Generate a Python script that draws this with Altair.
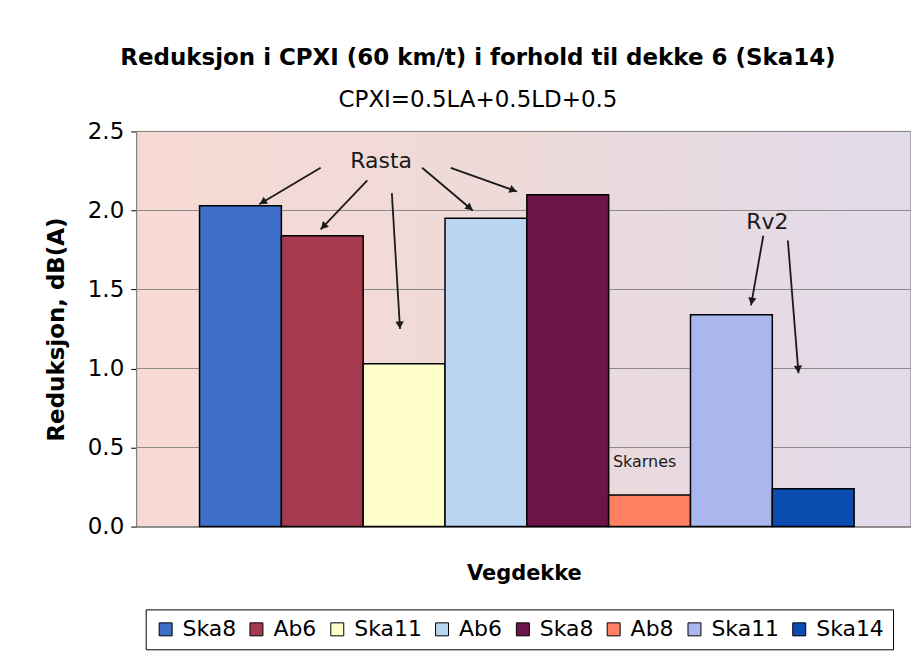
import math
import altair as alt
import pandas as pd

# ---- data ----
series_names = ["Ska8", "Ab6", "Ska11", "Ab6", "Ska8", "Ab8", "Ska11", "Ska14"]
series_values = [2.03, 1.84, 1.03, 1.95, 2.10, 0.20, 1.34, 0.24]
series_colors = ["#3d6fc8", "#a5394e", "#ffffcc", "#b9d5f2", "#6b1548",
                 "#ff8163", "#aab6ee", "#0a4cb0"]
y_ticks = [0.0, 0.5, 1.0, 1.5, 2.0, 2.5]

# annotation labels (data coords: x in bar units, y in dB(A))
label_text = ["Rasta", "Rv2", "Skarnes"]
label_x = [2.22, 6.94, 5.44]
label_y = [2.31, 1.93, 0.41]
label_size = [22, 22, 16]

# arrows (start -> end) in data coords
arrow_x1 = [1.48, 2.05, 2.35, 2.72, 3.07, 6.89, 7.19]
arrow_y1 = [2.27, 2.19, 2.11, 2.27, 2.27, 1.84, 1.81]
arrow_x2 = [0.73, 1.48, 2.45, 3.34, 3.88, 6.74, 7.32]
arrow_y2 = [2.04, 1.88, 1.25, 2.00, 2.12, 1.40, 0.97]

X_MIN, X_MAX = -0.768, 8.695
Y_MIN, Y_MAX = 0.0, 2.5
W, H = 776, 396
FONT = "DejaVu Sans"

ids = [str(i) for i in range(len(series_names))]
bars = pd.DataFrame({
    "id": ids,
    "name": series_names,
    "value": series_values,
    "x0": list(range(len(series_names))),
})
bars["x1"] = bars["x0"] + 1
bars["base"] = 0.0

sx = W / (X_MAX - X_MIN)
sy = H / (Y_MAX - Y_MIN)
rows = []
for a, b, c, d in zip(arrow_x1, arrow_y1, arrow_x2, arrow_y2):
    dxp = (c - a) * sx
    dyp = -(d - b) * sy
    L = math.hypot(dxp, dyp)
    ang = math.degrees(math.atan2(dxp, -dyp)) % 360
    back = 4.0
    hx = c - (dxp / L * back) / sx
    hy = d + (dyp / L * back) / sy
    rows.append({"x1": a, "y1": b, "x2": c, "y2": d, "hx": hx, "hy": hy, "ang": ang})
arrows = pd.DataFrame(rows)

labels = pd.DataFrame({"t": label_text, "x": label_x, "y": label_y, "s": label_size})
frame = pd.DataFrame({"xa": [X_MIN], "xb": [X_MAX], "ya": [Y_MIN], "yb": [Y_MAX]})

xscale = alt.Scale(domain=[X_MIN, X_MAX], nice=False, zero=False)
yscale = alt.Scale(domain=[Y_MIN, Y_MAX], nice=False, zero=False)

xaxis = alt.Axis(title="Vegdekke", labels=False, ticks=False, grid=False,
                 domainColor="#808080", titleFont=FONT, titleFontSize=21,
                 titleFontWeight="bold", titleColor="black", titlePadding=36)
yaxis = alt.Axis(title="Reduksjon, dB(A)", values=y_ticks, format=".1f",
                 labelFont=FONT, labelFontSize=23, labelColor="black",
                 labelPadding=7, tickSize=6, tickColor="black",
                 domainColor="black", domainWidth=1.5,
                 gridColor="#8a8a8a", gridWidth=1,
                 titleFont=FONT, titleFontSize=23, titleFontWeight="bold",
                 titleColor="black", titlePadding=19)

grad = alt.Gradient(
    gradient="linear",
    stops=[alt.GradientStop(color="#f8dad4", offset=0),
           alt.GradientStop(color="#eddad9", offset=0.5),
           alt.GradientStop(color="#e2dbeb", offset=1)],
    x1=0, x2=1, y1=0, y2=0,
)

background = alt.Chart(frame).mark_rect(color=grad, stroke="#808080", strokeWidth=1).encode(
    x=alt.X("xa:Q", scale=xscale, axis=xaxis),
    x2="xb:Q",
    y=alt.Y("ya:Q", scale=yscale, axis=yaxis),
    y2="yb:Q",
)

# gridlines drawn above the background
grid = alt.Chart(pd.DataFrame({"v": y_ticks})).mark_rule(color="#8a8a8a", strokeWidth=1).encode(
    y=alt.Y("v:Q", scale=yscale, axis=yaxis),
)

label_expr = "split('" + ",".join(series_names) + "', ',')[toNumber(datum.value)]"

bar_layer = alt.Chart(bars).mark_bar(stroke="black", strokeWidth=1.5).encode(
    x=alt.X("x0:Q", scale=xscale, axis=xaxis),
    x2="x1:Q",
    y=alt.Y("value:Q", scale=yscale, axis=yaxis),
    y2="base:Q",
    color=alt.Color("id:N",
                    scale=alt.Scale(domain=ids, range=series_colors),
                    legend=alt.Legend(title=None, orient="none", legendX=9, legendY=479,
                                      direction="horizontal", columns=len(ids),
                                      labelExpr=label_expr, labelFont=FONT,
                                      labelFontSize=22, labelColor="black",
                                      symbolType="square", symbolSize=169,
                                      symbolStrokeColor="black", symbolStrokeWidth=1,
                                      labelOffset=6, columnPadding=9, padding=9,
                                      strokeColor="black", fillColor="white")),
)

rules = alt.Chart(arrows).mark_rule(color="#1a1a1a", strokeWidth=1.8).encode(
    x=alt.X("x1:Q", scale=xscale, axis=xaxis),
    y=alt.Y("y1:Q", scale=yscale, axis=yaxis),
    x2="x2:Q",
    y2="y2:Q",
)

heads = alt.Chart(arrows).mark_point(shape="triangle-up", filled=True, size=70,
                                     color="#1a1a1a", opacity=1).encode(
    x=alt.X("hx:Q", scale=xscale, axis=xaxis),
    y=alt.Y("hy:Q", scale=yscale, axis=yaxis),
    angle=alt.Angle("ang:Q", scale=None),
)

texts = alt.Chart(labels).mark_text(font=FONT, color="#1a1a1a").encode(
    x=alt.X("x:Q", scale=xscale, axis=xaxis),
    y=alt.Y("y:Q", scale=yscale, axis=yaxis),
    text="t:N",
    size=alt.Size("s:Q", scale=None, legend=None),
)

chart = alt.layer(background, grid, bar_layer, rules, heads, texts).properties(
    width=W, height=H,
    autosize=alt.AutoSizeParams(type="none"),
    padding={"left": 129, "top": 123, "right": 0, "bottom": 130},
    title=alt.TitleParams(
        text="Reduksjon i CPXI (60 km/t) i forhold til dekke 6 (Ska14)",
        subtitle="CPXI=0.5LA+0.5LD+0.5",
        font=FONT, fontSize=23, fontWeight="bold", color="black",
        subtitleFont=FONT, subtitleFontSize=23, subtitleColor="black",
        subtitlePadding=20, anchor="middle", dx=-46, offset=8,
    ),
).configure_view(stroke=None).configure(background="white")

chart.save("out.html", embed_options={"renderer": "svg", "actions": False})
